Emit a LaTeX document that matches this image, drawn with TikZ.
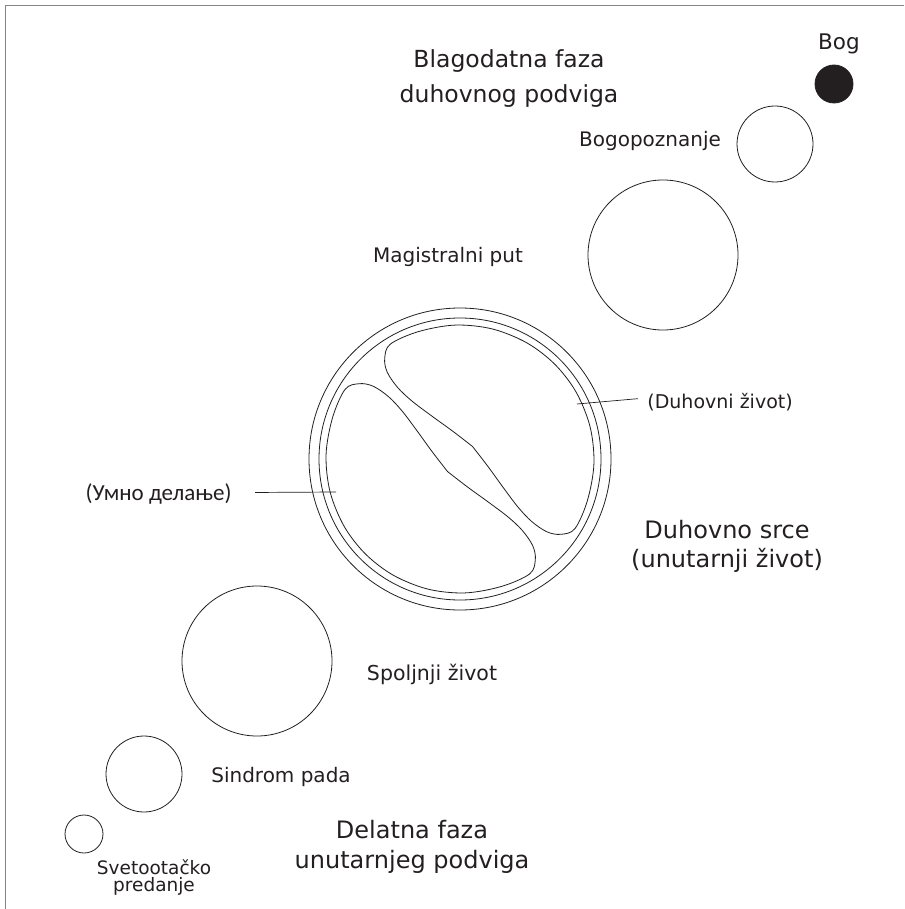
\documentclass[tikz,border=0pt]{standalone}
\usepackage{fontspec}
\setmainfont{DejaVu Sans}
\newfontfamily\cyrfont{Carlito}
\definecolor{ink}{HTML}{231F20}
\definecolor{frame}{HTML}{858585}

\begin{document}
\begin{tikzpicture}[x=1pt,y=-1pt,ink,line width=0.8pt]
    \tikzstyle{ring}=[circle,draw=ink,inner sep=0pt,line width=0.8pt]
    \tikzstyle{lbl}=[inner sep=0pt,align=center,anchor=base,text=ink]
    \tikzstyle{mid}=[font=\fontsize{20}{24}\selectfont]
    \useasboundingbox (0,0) rectangle (904,909);
    \draw[frame,line width=1.5pt] (904,5.5) -- (5.5,5.5) -- (5.5,909);

    \node[ring,fill=ink,minimum size=38pt] (bog) at (834,84) {};
    \node[ring,minimum size=76pt] (bogopoznanje) at (775,144) {};
    \node[ring,minimum size=150pt] (magistralni) at (663,255) {};
    \node[ring,minimum size=302pt] (srce) at (460,459) {};
    \node[ring,minimum size=282pt] (srceIn) at (srce) {};
    \node[ring,minimum size=150pt] (spoljnji) at (257,661) {};
    \node[ring,minimum size=76pt] (sindrom) at (144,774) {};
    \node[ring,minimum size=38pt] (predanje) at (84,834) {};

    \begin{scope}[shift={(srce.center)},y=1pt,rotate=45]
        \foreach \r in {0,180}
            \draw[rotate=\r] plot[smooth,tension=0.55] coordinates {
                (17.7,0) (14.5,25) (10.5,50) (7,75) (6.5,95) (10,113) (18,124.5)
                (32,130.5) (63:134) (47:134) (31:134) (15:134) (0:134) (-15:134)
                (-31:134) (-47:134) (-63:134) (32,-130.5) (18,-124.5) (10,-113)
                (6.5,-95) (7,-75) (10.5,-50) (14.5,-25) (17.7,0)};
    \end{scope}
    \coordinate (duhPt) at (577,404);
    \coordinate (umnoPt) at (336,492);

    \node[lbl,font=\fontsize{21.5}{26}\selectfont] (bogL) at (839,50) {Bog};
    \node[lbl,font=\fontsize{23.5}{35}\selectfont] (blagodatna) at (509,103) {Blagodatna faza\\duhovnog podviga};
    \node[lbl,mid] (bogopoznanjeL) at (650,147) {Bogopoznanje};
    \node[lbl,mid] (magistralniL) at (448,262) {Magistralni put};
    \node[lbl,font=\fontsize{19}{23}\selectfont,anchor=base west] (duhovni) at (647,408) {(Duhovni život)};
    \node[lbl,font=\cyrfont\fontsize{23}{27}\selectfont,anchor=base east] (umno) at (232,500) {(Умно делање)};
    \node[lbl,font=\fontsize{24}{29}\selectfont] (srceL) at (727,567) {Duhovno srce\\(unutarnji život)};
    \node[lbl,font=\fontsize{20.5}{24}\selectfont] (spoljnjiL) at (432,680) {Spoljnji život};
    \node[lbl,mid] (sindromL) at (281,782) {Sindrom pada};
    \node[lbl,font=\fontsize{24}{30}\selectfont] (delatna) at (412,868) {Delatna faza\\unutarnjeg podviga};
    \node[lbl,font=\fontsize{18.5}{17}\selectfont] (predanjeL) at (154,891) {Svetootačko\\predanje};

    \draw[line width=0.7pt] (duhPt) -- ([xshift=-9pt,yshift=3pt]duhovni.west);
    \draw[line width=0.7pt] (umnoPt) -- ([xshift=23pt,yshift=1pt]umno.east);
\end{tikzpicture}
\end{document}
